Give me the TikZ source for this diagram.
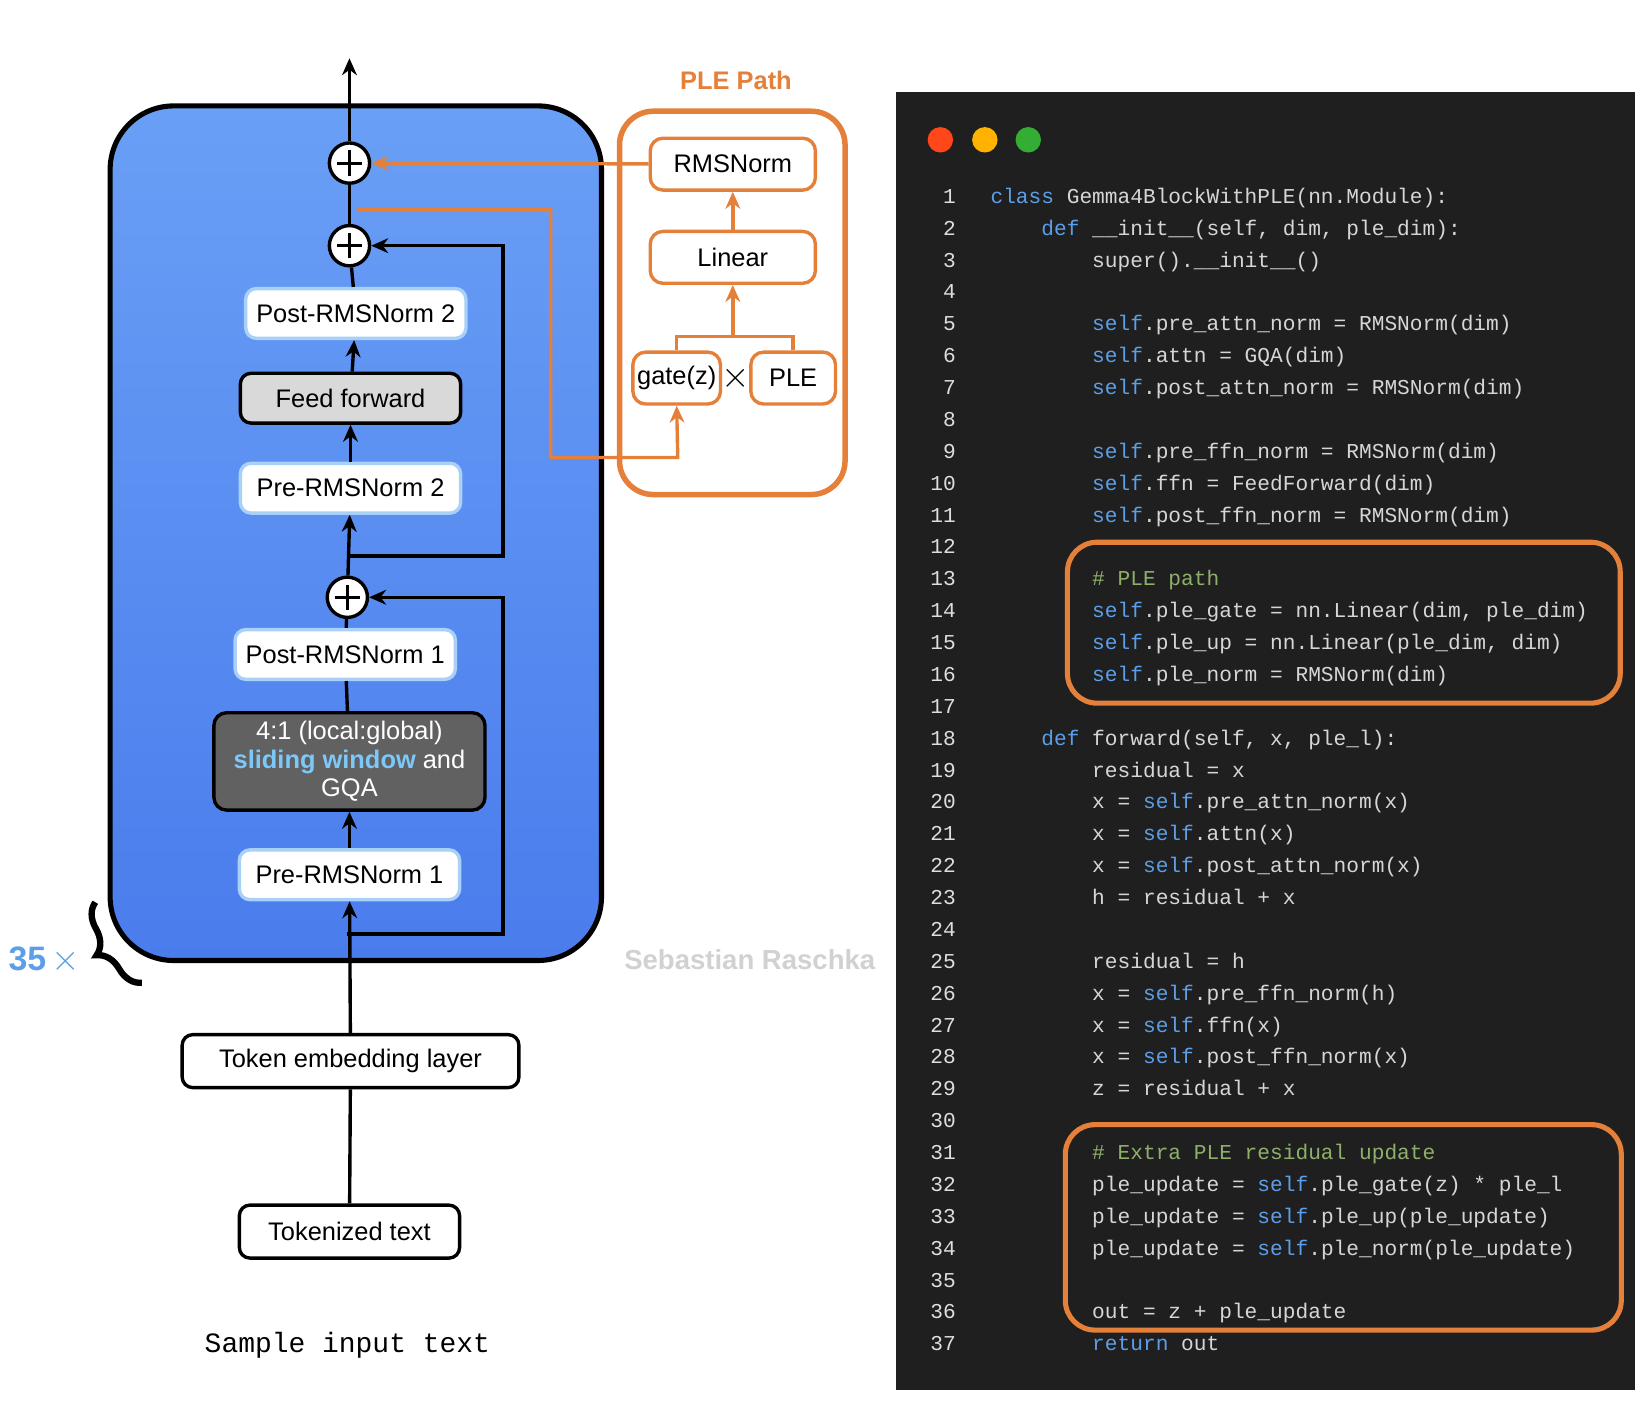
\documentclass[tikz,border=0pt]{standalone}
\usepackage{fontspec}
\setmainfont{Liberation Sans}
\setmonofont{Liberation Mono}
\usetikzlibrary{arrows.meta, positioning, decorations.pathreplacing}
\definecolor{blocktop}{HTML}{6A9FF6}
\definecolor{blockbot}{HTML}{4A7CEC}
\definecolor{normedge}{HTML}{A9D0F7}
\definecolor{plegold}{HTML}{E5803A}
\definecolor{codebg}{HTML}{1F1F1F}
\definecolor{codetxt}{HTML}{D6D6D6}
\definecolor{codekw}{HTML}{5C9EE8}
\definecolor{codecm}{HTML}{8FB06A}
\definecolor{swblue}{HTML}{7CC8F8}
\newcommand{\kw}[1]{\textcolor{codekw}{#1}}
\newcommand{\cm}[1]{\textcolor{codecm}{#1}}
\tikzset{
  norm/.style={draw=normedge, line width=1.6pt, fill=white, rounded corners=5pt,
    minimum width=104pt, minimum height=23.5pt, font=\fontsize{12}{14}\selectfont},
  io/.style={draw=black, line width=1.6pt, fill=white, rounded corners=5pt,
    minimum height=25pt, font=\fontsize{12}{14}\selectfont},
  ple/.style={draw=plegold, line width=1.6pt, fill=white, rounded corners=6pt,
    minimum height=24.5pt, font=\fontsize{12}{14}\selectfont},
  plus/.style={circle, draw=black, line width=1.6pt, fill=white, minimum size=19pt,
    inner sep=0pt, path picture={\draw[line width=1.4pt]
      ([xshift=-6pt]path picture bounding box.center) -- ([xshift=6pt]path picture bounding box.center)
      ([yshift=-6pt]path picture bounding box.center) -- ([yshift=6pt]path picture bounding box.center);}},
  flow/.style={line width=1.6pt, -{Stealth[length=8pt,width=7pt]}},
  line/.style={line width=1.6pt},
  oflow/.style={line width=1.6pt, plegold, -{Stealth[length=8pt,width=7pt]}},
  code/.style={anchor=base west, inner sep=0pt, text=codetxt, font=\ttfamily\fontsize{10}{12}\selectfont},
  lnum/.style={anchor=base east, inner sep=0pt, text=codetxt!80, font=\ttfamily\fontsize{10}{12}\selectfont},
}
\begin{document}
\begin{tikzpicture}[x=0.5pt, y=-0.5pt]
\useasboundingbox (0,0) rectangle (1560,1341);

% transformer block
\shade[top color=blocktop, bottom color=blockbot, rounded corners=30pt]
  (104,100) rectangle (568,907);
\draw[line width=2.4pt, rounded corners=30pt] (104,100) rectangle (568,907);

\node[plus] (plusTop) at (330,154) {};
\node[plus] (plusMid) at (330,232) {};
\node[plus] (plusLow) at (328,564) {};
\node[norm] (post2) at (336,296) {Post-RMSNorm 2};
\node[norm, draw=black, fill=black!15] (ffn) at (331,376) {Feed forward};
\node[norm] (pre2) at (331,461) {Pre-RMSNorm 2};
\node[norm] (post1) at (326,618) {Post-RMSNorm 1};
\node[draw=black, line width=1.6pt, fill=black!62, rounded corners=6pt, minimum width=128pt,
  minimum height=46pt, align=center, text=white, font=\fontsize{12}{13.5}\selectfont]
  (attn) at (330,719) {4:1 (local:global)\\\textcolor{swblue}{\bfseries sliding window} and\\GQA};
\node[norm] (pre1) at (330,826) {Pre-RMSNorm 1};
\node[io, minimum width=159pt] (embed) at (331,1002) {Token embedding layer};
\node[io, minimum width=104pt] (tokens) at (330,1163) {Tokenized text};
\node[font=\ttfamily\fontsize{13.2}{16}\selectfont] (sample) at (328,1270) {Sample input text};
\coordinate (out) at (330,55);

% main path
\draw[line] (tokens) -- (embed);
\draw[flow] (embed) -- (pre1);
\draw[flow] (pre1) -- (attn);
\draw[line] (attn) -- (post1);
\draw[line] (post1) -- (plusLow);
\draw[flow] (plusLow) -- (pre2);
\draw[flow] (pre2) -- (ffn);
\draw[flow] (ffn) -- (post2);
\draw[line] (post2) -- (plusMid);
\draw[line] (plusMid) -- (plusTop);
\draw[flow] (plusTop) -- (out);

% residual connections
\coordinate (res1) at (328,882);
\coordinate (res2) at (329,525);
\draw[flow] (res1) -- (475,882) |- (plusLow);
\draw[flow] (res2) -- (475,525) |- (plusMid);

% repeat brace
\draw[line width=3pt, decorate, decoration={brace, amplitude=12pt, mirror}] (90,852) -- (134,928);
\node[text=codekw, font=\bfseries\fontsize{16}{18}\selectfont] (reps) at (42,907) {35\,$\times$};

% PLE path
\node[text=plegold, font=\bfseries\fontsize{12}{14}\selectfont] (pletitle) at (695,76) {PLE Path};
\draw[plegold, line width=2.6pt, rounded corners=16pt] (585,105) rectangle (798,467);
\node[ple, minimum width=78pt] (rms) at (692,155) {RMSNorm};
\node[ple, minimum width=78pt] (linear) at (692,243) {Linear};
\node[ple, minimum width=40pt, inner sep=2pt] (gate) at (639,357) {gate(z)};
\node[ple, minimum width=40pt] (pleemb) at (749,357) {PLE};
\node[font=\fontsize{16}{16}\selectfont] (times) at (695,357) {$\times$};
\coordinate (join) at (692,318);
\draw[line, plegold] (gate.north) |- (join) -| (pleemb.north);
\draw[oflow] (join) -- (linear);
\draw[oflow] (linear) -- (rms);
\draw[oflow] (rms) -- (plusTop);
\coordinate (tap) at (337,198);
\draw[oflow] (tap) -- (520,198) |- (640,432) -- (gate.south);

% watermark
\node[text=black!18, font=\bfseries\fontsize{13}{15}\selectfont] (mark) at (708,906) {Sebastian Raschka};

% code panel
\fill[codebg] (846,87) rectangle (1544,1313);
\fill[red!60!orange!90] (888,132) circle (12);
\fill[orange!60!yellow] (930,132) circle (12);
\fill[green!60!black!80] (971,132) circle (12);
\draw[plegold, line width=2.4pt, rounded corners=14pt] (1008,512) rectangle (1530,664);
\draw[plegold, line width=2.4pt, rounded corners=14pt] (1006,1062) rectangle (1531,1256);

\foreach \n/\ind/\txt in {
  1/0/{\kw{class} Gemma4BlockWithPLE(nn.Module):},
  2/1/{\kw{def} \_\_init\_\_(self, dim, ple\_dim):},
  3/2/{super().\_\_init\_\_()},
  4/0/{},
  5/2/{\kw{self}.pre\_attn\_norm = RMSNorm(dim)},
  6/2/{\kw{self}.attn = GQA(dim)},
  7/2/{\kw{self}.post\_attn\_norm = RMSNorm(dim)},
  8/0/{},
  9/2/{\kw{self}.pre\_ffn\_norm = RMSNorm(dim)},
  10/2/{\kw{self}.ffn = FeedForward(dim)},
  11/2/{\kw{self}.post\_ffn\_norm = RMSNorm(dim)},
  12/0/{},
  13/2/{\cm{\# PLE path}},
  14/2/{\kw{self}.ple\_gate = nn.Linear(dim, ple\_dim)},
  15/2/{\kw{self}.ple\_up = nn.Linear(ple\_dim, dim)},
  16/2/{\kw{self}.ple\_norm = RMSNorm(dim)},
  17/0/{},
  18/1/{\kw{def} forward(self, x, ple\_l):},
  19/2/{residual = x},
  20/2/{x = \kw{self}.pre\_attn\_norm(x)},
  21/2/{x = \kw{self}.attn(x)},
  22/2/{x = \kw{self}.post\_attn\_norm(x)},
  23/2/{h = residual + x},
  24/0/{},
  25/2/{residual = h},
  26/2/{x = \kw{self}.pre\_ffn\_norm(h)},
  27/2/{x = \kw{self}.ffn(x)},
  28/2/{x = \kw{self}.post\_ffn\_norm(x)},
  29/2/{z = residual + x},
  30/0/{},
  31/2/{\cm{\# Extra PLE residual update}},
  32/2/{ple\_update = \kw{self}.ple\_gate(z) * ple\_l},
  33/2/{ple\_update = \kw{self}.ple\_up(ple\_update)},
  34/2/{ple\_update = \kw{self}.ple\_norm(ple\_update)},
  35/0/{},
  36/2/{out = z + ple\_update},
  37/2/{\kw{return} out}
} {
  \node[lnum] (num\n) at (903,{192+30.1*(\n-1)}) {\n};
  \node[code] (ln\n) at ({935+48*\ind},{192+30.1*(\n-1)}) {\txt};
}
\end{tikzpicture}
\end{document}
